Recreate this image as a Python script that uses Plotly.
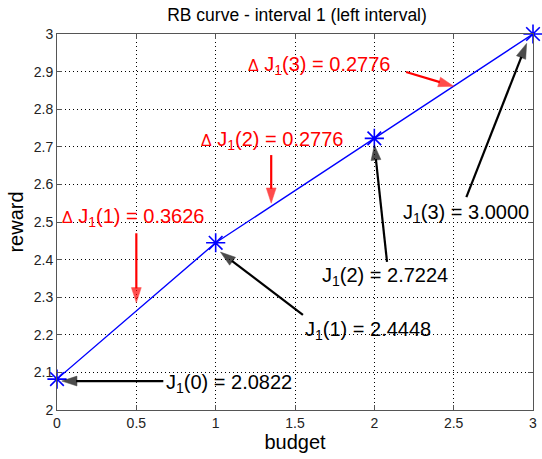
import plotly.graph_objects as go

budget = [0, 1, 2, 3]
reward = [2.0822, 2.4448, 2.7224, 3.0000]
delta = [0.3626, 0.2776, 0.2776]
xticks = [0, 0.5, 1, 1.5, 2, 2.5, 3]
yticks = [2, 2.1, 2.2, 2.3, 2.4, 2.5, 2.6, 2.7, 2.8, 2.9, 3]

FONT = "Liberation Sans, Arial, sans-serif"

fig = go.Figure()
fig.add_trace(go.Scatter(
    x=budget, y=reward, mode="lines+markers",
    line=dict(color="#0000ff", width=1.4),
    marker=dict(symbol="asterisk-open", size=16, color="#0000ff",
                line=dict(color="#0000ff", width=1.6)),
    showlegend=False, cliponaxis=False, hoverinfo="skip",
))

def arrow(x, y, ax, ay, color):
    # arrow from tail (ax, ay) to head (x, y)
    fig.add_trace(go.Scatter(
        x=[ax, x], y=[ay, y], mode="lines+markers",
        line=dict(color=color, width=2.2),
        marker=dict(symbol=["circle", "arrow"], size=[0, 16], color=color,
                    angleref="previous", line=dict(width=0.5, color=color)),
        showlegend=False, cliponaxis=False, hoverinfo="skip",
    ))

ann = []
def label(x, y, txt, color):
    ann.append(dict(x=x, y=y, xref="x", yref="y", text=txt, showarrow=False,
                    xanchor="left", yanchor="middle",
                    font=dict(family=FONT, size=20, color=color)))

D = "<span style='font-size:16px'>Δ</span> "
# red delta annotations
label(1.19, 2.917, D + "J<sub>1</sub>(3) = %.4f" % delta[2], "#ff0000")
arrow(2.5, 2.861, 2.2, 2.899, "#ff0000")
label(0.894, 2.716, D + "J<sub>1</sub>(2) = %.4f" % delta[1], "#ff0000")
arrow(1.35, 2.55, 1.35, 2.678, "#ff0000")
label(0.02, 2.511, D + "J<sub>1</sub>(1) = %.4f" % delta[0], "#ff0000")
arrow(0.5, 2.285, 0.5, 2.47, "#ff0000")

# black value annotations
label(0.675, 2.070, "J<sub>1</sub>(0) = %.4f" % reward[0], "#000000")
arrow(0.03, 2.077, 0.67, 2.077, "#000000")
label(1.55, 2.212, "J<sub>1</sub>(1) = %.4f" % reward[1], "#000000")
arrow(1.03, 2.42, 1.55, 2.253, "#000000")
label(1.656, 2.355, "J<sub>1</sub>(2) = %.4f" % reward[2], "#000000")
arrow(2.0, 2.705, 2.08, 2.394, "#000000")
label(2.165, 2.523, "J<sub>1</sub>(3) = %.4f" % reward[3], "#000000")
arrow(2.96, 2.975, 2.58, 2.566, "#000000")

axis_common = dict(showgrid=True, gridcolor="#000000", griddash="1px,3px", gridwidth=1,
                   showline=True, linecolor="#555555", linewidth=1, mirror="ticks",
                   ticks="inside", ticklen=5, tickcolor="#555555", zeroline=False,
                   tickfont=dict(family=FONT, size=14, color="#222222"))

fig.update_layout(
    width=542, height=459,
    margin=dict(l=57, r=5, t=34, b=49),
    paper_bgcolor="#ffffff", plot_bgcolor="#ffffff",
    title=dict(text="RB curve - interval 1 (left interval)", x=0.548, xanchor="center",
               y=0.968, yanchor="middle", font=dict(family=FONT, size=17.5, color="#000000")),
    xaxis=dict(range=[0, 3], tickvals=xticks, ticktext=[f"{v:g}" for v in xticks],
               title=dict(text="budget", font=dict(family=FONT, size=20, color="#000000"), standoff=2),
               **axis_common),
    yaxis=dict(range=[2, 3], tickvals=yticks, ticktext=[f"{v:g}" for v in yticks],
               title=dict(text="reward", font=dict(family=FONT, size=20, color="#000000"), standoff=4),
               **axis_common),
    annotations=ann,
    font=dict(family=FONT),
)

fig.write_html("out.html")
